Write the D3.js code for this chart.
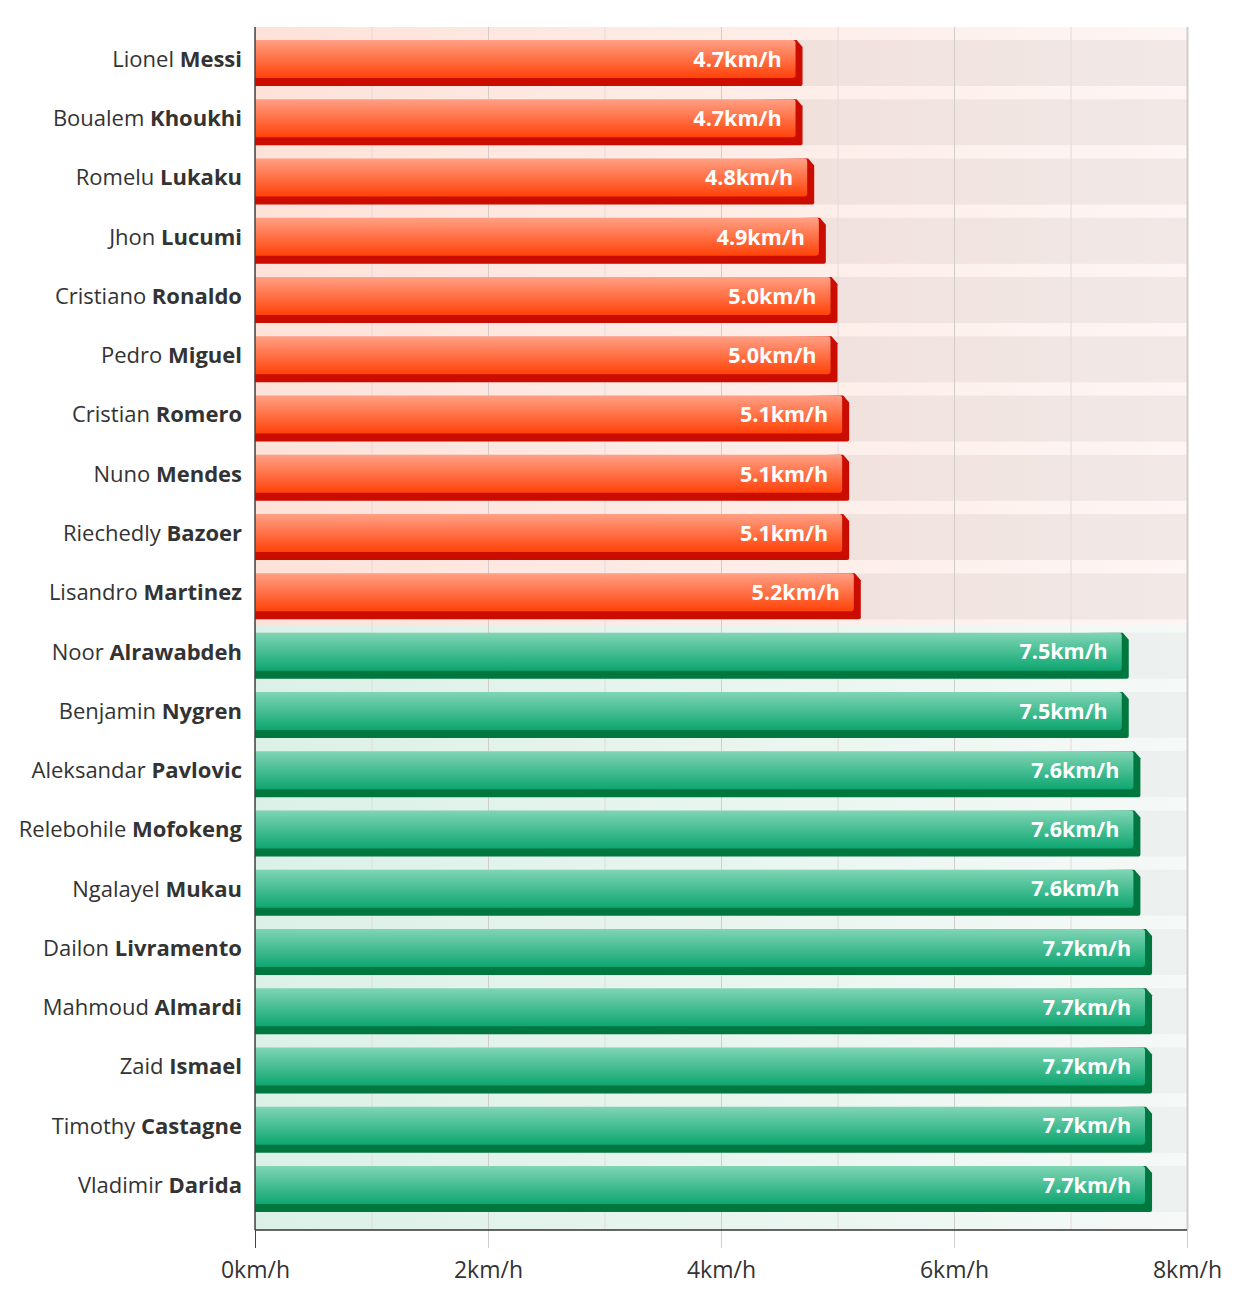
<!DOCTYPE html>
<html>
<head>
<meta charset="utf-8">
<script src="https://cdn.jsdelivr.net/npm/d3@7"></script>
<style>
  body { margin: 0; background: #fff; }
  text { font-family: "Open Sans", Lato, sans-serif; }
</style>
</head>
<body>
<script>
// players, slowest group first then fastest group
const firstNames = ["Lionel", "Boualem", "Romelu", "Jhon", "Cristiano", "Pedro", "Cristian", "Nuno", "Riechedly", "Lisandro",
  "Noor", "Benjamin", "Aleksandar", "Relebohile", "Ngalayel", "Dailon", "Mahmoud", "Zaid", "Timothy", "Vladimir"];
const lastNames = ["Messi", "Khoukhi", "Lukaku", "Lucumi", "Ronaldo", "Miguel", "Romero", "Mendes", "Bazoer", "Martinez",
  "Alrawabdeh", "Nygren", "Pavlovic", "Mofokeng", "Mukau", "Livramento", "Almardi", "Ismael", "Castagne", "Darida"];
const speeds = [4.7, 4.7, 4.8, 4.9, 5.0, 5.0, 5.1, 5.1, 5.1, 5.2,
  7.5, 7.5, 7.6, 7.6, 7.6, 7.7, 7.7, 7.7, 7.7, 7.7];
const groups = ["slow", "slow", "slow", "slow", "slow", "slow", "slow", "slow", "slow", "slow",
  "fast", "fast", "fast", "fast", "fast", "fast", "fast", "fast", "fast", "fast"];
const tickValues = [0, 2, 4, 6, 8];

const W = 1240, H = 1315;
const plotTop = 27, plotBottom = 1230, plotLeft = 255, plotRight = 1187;

const colors = {
  slow: { top: "#ffa085", bottom: "#ff4208", side: "#cb0c00", bgLeft: "#fde2d9", bgRight: "#fdf6f4", track: "rgba(40,20,10,0.055)" },
  fast: { top: "#80d5b5", bottom: "#0ea671", side: "#00773f", bgLeft: "#dbf1e7", bgRight: "#f5f9f7", track: "rgba(40,40,40,0.04)" }
};

const rows = firstNames.map((f, i) => ({ id: i, first: f, last: lastNames[i], v: speeds[i], g: groups[i] }));

const svg = d3.select("body").append("svg")
  .attr("width", W)
  .attr("height", H);

const x = d3.scaleLinear().domain([0, 8]).range([plotLeft, plotRight]);
const y = d3.scaleBand().domain(rows.map(d => d.id))
  .range([40, 1212])
  .paddingInner(0.2238)
  .paddingOuter(0);
const bw = y.bandwidth();
const faceH = bw - 8;
const gap = y.step() - bw;

const defs = svg.append("defs");
Object.entries(colors).forEach(([k, c]) => {
  const fg = defs.append("linearGradient").attr("id", "face-" + k)
    .attr("x1", 0).attr("y1", 0).attr("x2", 0).attr("y2", 1);
  fg.append("stop").attr("offset", "0%").attr("stop-color", c.top);
  fg.append("stop").attr("offset", "100%").attr("stop-color", c.bottom);
  const bg = defs.append("linearGradient").attr("id", "bg-" + k)
    .attr("x1", 0).attr("y1", 0).attr("x2", 1).attr("y2", 0);
  bg.append("stop").attr("offset", "0%").attr("stop-color", c.bgLeft);
  bg.append("stop").attr("offset", "100%").attr("stop-color", c.bgRight);
});

// background for each group
const split = y(10) - gap / 2;
svg.append("rect").attr("x", plotLeft).attr("y", plotTop)
  .attr("width", plotRight - plotLeft).attr("height", split - plotTop)
  .attr("fill", "url(#bg-slow)");
svg.append("rect").attr("x", plotLeft).attr("y", split)
  .attr("width", plotRight - plotLeft).attr("height", plotBottom - split)
  .attr("fill", "url(#bg-fast)");

// tracks behind bars
svg.selectAll("rect.track")
  .data(rows)
  .enter()
  .append("rect")
  .attr("class", "track")
  .attr("x", plotLeft)
  .attr("y", d => y(d.id))
  .attr("width", plotRight - plotLeft)
  .attr("height", bw)
  .attr("fill", d => colors[d.g].track);

// gridlines
const grid = svg.append("g")
  .attr("transform", `translate(0,${plotBottom})`)
  .call(d3.axisBottom(x).ticks(8).tickSize(-(plotBottom - plotTop)).tickFormat(""));
grid.select(".domain").remove();
grid.selectAll(".tick line")
  .attr("stroke", d => d % 2 === 0 ? "#d2cccb" : "#e2dad8")
  .attr("stroke-width", d => d === 8 ? 2 : 1);

// bars
const bars = svg.selectAll("g.bar")
  .data(rows)
  .enter()
  .append("g")
  .attr("class", "bar");

bars.append("path")
  .attr("fill", d => colors[d.g].side)
  .attr("d", d => {
    const t = y(d.id), R = x(d.v), fe = R - 7;
    return `M${plotLeft},${t + 8} L${fe - 2},${t} L${fe + 1},${t} L${R},${t + 7} L${R},${t + bw - 2}` +
      ` Q${R},${t + bw} ${R - 2},${t + bw} L${plotLeft},${t + bw} Z`;
  });

bars.append("path")
  .attr("fill", d => "url(#face-" + d.g + ")")
  .attr("d", d => {
    const t = y(d.id), fe = x(d.v) - 7, r = 3;
    return `M${plotLeft},${t} L${fe - r},${t} Q${fe},${t} ${fe},${t + r} L${fe},${t + faceH - r}` +
      ` Q${fe},${t + faceH} ${fe - r},${t + faceH} L${plotLeft},${t + faceH} Z`;
  });

bars.append("text")
  .attr("x", d => x(d.v) - 21)
  .attr("y", d => y(d.id) + faceH / 2)
  .attr("dy", "0.36em")
  .attr("text-anchor", "end")
  .attr("fill", "#fff")
  .attr("font-size", 21.5)
  .attr("font-weight", "bold")
  .text(d => d.v.toFixed(1) + "km/h");

// player names
const names = svg.selectAll("text.name")
  .data(rows)
  .enter()
  .append("text")
  .attr("class", "name")
  .attr("x", 242)
  .attr("y", d => y(d.id) + faceH / 2)
  .attr("dy", "0.36em")
  .attr("text-anchor", "end")
  .attr("fill", "#333")
  .attr("font-size", 22);
names.append("tspan").text(d => d.first + " ");
names.append("tspan").attr("font-weight", "bold").text(d => d.last);

// x axis
const xAxis = svg.append("g")
  .attr("transform", `translate(0,${plotBottom})`)
  .call(d3.axisBottom(x).tickValues(tickValues).tickSize(18).tickPadding(14).tickFormat(d => d + "km/h"));
xAxis.select(".domain").remove();
xAxis.selectAll(".tick line").attr("stroke", d => d === 0 ? "#444" : "#cfcfcf");
xAxis.selectAll(".tick text")
  .attr("font-size", 23)
  .attr("fill", "#333")
  .style("font-family", "'Open Sans', Lato, sans-serif");

svg.append("line")
  .attr("x1", plotLeft).attr("x2", plotRight)
  .attr("y1", plotBottom).attr("y2", plotBottom)
  .attr("stroke", "#333").attr("stroke-width", 1.5);
svg.append("line")
  .attr("x1", plotLeft).attr("x2", plotLeft)
  .attr("y1", plotTop).attr("y2", plotBottom)
  .attr("stroke", "#444").attr("stroke-width", 1.5);
</script>
</body>
</html>
